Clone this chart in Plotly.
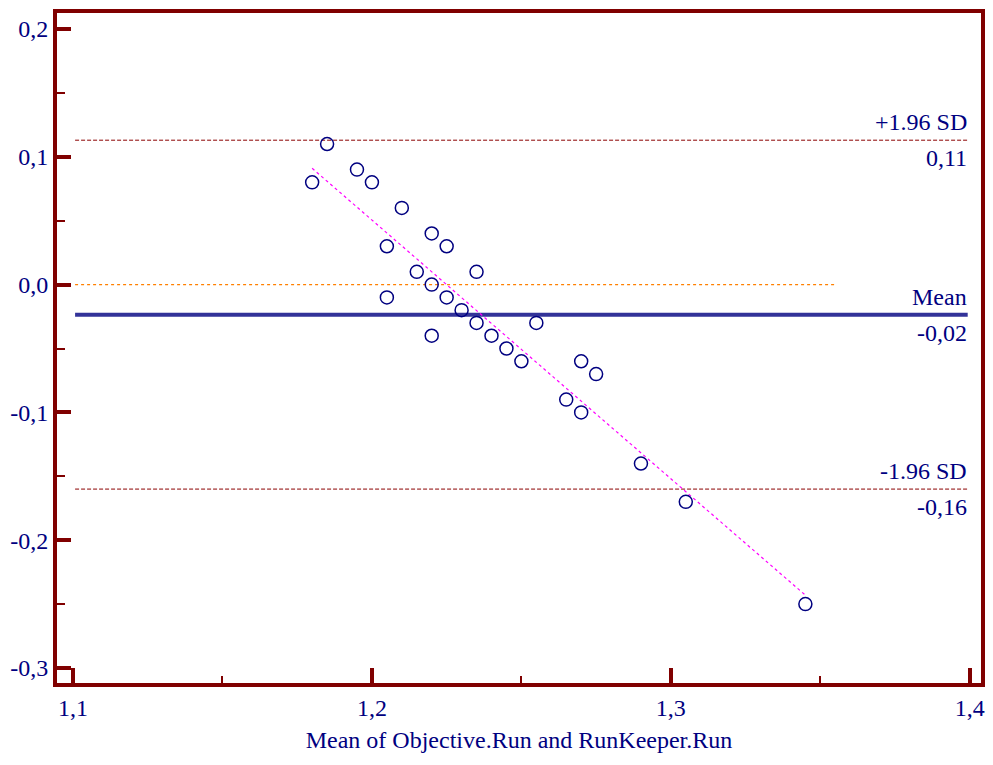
import plotly.graph_objects as go

# Data: mean of the two methods (x) and difference (y)
mean_vals = [1.180, 1.185, 1.195, 1.200, 1.210, 1.205, 1.220, 1.225, 1.235, 1.215,
             1.220, 1.205, 1.225, 1.230, 1.235, 1.255, 1.220, 1.240, 1.245, 1.250,
             1.270, 1.275, 1.265, 1.270, 1.290, 1.305, 1.345]
diff_vals = [0.08, 0.11, 0.09, 0.08, 0.06, 0.03, 0.04, 0.03, 0.01, 0.01,
             0.00, -0.01, -0.01, -0.02, -0.03, -0.03, -0.04, -0.04, -0.05, -0.06,
             -0.06, -0.07, -0.09, -0.10, -0.14, -0.17, -0.25]

mean_diff = -0.0235
upper_loa = 0.113
lower_loa = -0.160
line_x = [1.1007, 1.3993]
zero_x = [1.1007, 1.355]
reg_x = [1.180, 1.345]
reg_y = [0.091, -0.243]

x_ticks = [1.1, 1.2, 1.3, 1.4]
x_ticklabels = ["1,1", "1,2", "1,3", "1,4"]
y_ticks = [-0.3, -0.2, -0.1, 0.0, 0.1, 0.2]
y_ticklabels = ["-0,3", "-0,2", "-0,1", "0,0", "0,1", "0,2"]

NAVY = "#000080"
MAROON = "#800000"
FONT = "Liberation Serif"
FS = 24

fig = go.Figure()

# zero line
fig.add_trace(go.Scatter(x=zero_x, y=[0, 0], mode="lines",
                         line=dict(color="#ff8000", width=1.2, dash="dot"),
                         hoverinfo="skip", showlegend=False))
# limits of agreement
for v in (upper_loa, lower_loa):
    fig.add_trace(go.Scatter(x=line_x, y=[v, v], mode="lines",
                             line=dict(color="#8b0000", width=1, dash="4px,2px"),
                             hoverinfo="skip", showlegend=False))
# mean line
fig.add_trace(go.Scatter(x=line_x, y=[mean_diff, mean_diff], mode="lines",
                         line=dict(color="#333399", width=4),
                         hoverinfo="skip", showlegend=False))
# regression line
fig.add_trace(go.Scatter(x=reg_x, y=reg_y, mode="lines",
                         line=dict(color="#ff00ff", width=1.2, dash="dot"),
                         hoverinfo="skip", showlegend=False))
# points
fig.add_trace(go.Scatter(x=mean_vals, y=diff_vals, mode="markers",
                         marker=dict(symbol="circle-open", size=13,
                                     color=NAVY, line=dict(width=1.5, color=NAVY)),
                         showlegend=False))

labels = [(upper_loa, "+1.96 SD", "0,11"), (mean_diff, "Mean", "-0,02"),
          (lower_loa, "-1.96 SD", "-0,16")]
for v, top, bottom in labels:
    fig.add_annotation(x=1.3997, y=v, text=top, showarrow=False,
                       xanchor="right", yanchor="bottom", yshift=3,
                       font=dict(family=FONT, size=FS, color=NAVY))
    fig.add_annotation(x=1.3997, y=v, text=bottom, showarrow=False,
                       xanchor="right", yanchor="top", yshift=-3,
                       font=dict(family=FONT, size=FS, color=NAVY))

fig.update_layout(
    width=993, height=765,
    margin=dict(l=57, r=8, t=13, b=82),
    paper_bgcolor="white", plot_bgcolor="white",
    font=dict(family=FONT, size=FS, color=NAVY),
    showlegend=False,
)
fig.update_xaxes(
    range=[1.09465, 1.40375], showgrid=False, zeroline=False,
    showline=True, linecolor=MAROON, linewidth=4, mirror=True,
    ticks="inside", ticklen=15, tickwidth=4, tickcolor=MAROON,
    tickvals=x_ticks, ticktext=x_ticklabels,
    tickfont=dict(family=FONT, size=FS, color=NAVY),
    minor=dict(ticks="inside", ticklen=7, tickwidth=2, tickcolor=MAROON,
               tickvals=[1.15, 1.25, 1.35], showgrid=False),
    title=dict(text="Mean of Objective.Run and RunKeeper.Run",
               font=dict(family=FONT, size=FS, color=NAVY), standoff=12),
)
fig.update_yaxes(
    range=[-0.31174, 0.21252], showgrid=False, zeroline=False,
    showline=True, linecolor=MAROON, linewidth=4, mirror=True,
    ticks="inside", ticklen=14, tickwidth=4, tickcolor=MAROON,
    tickvals=y_ticks, ticktext=y_ticklabels,
    tickfont=dict(family=FONT, size=FS, color=NAVY),
    minor=dict(ticks="inside", ticklen=8, tickwidth=2, tickcolor=MAROON,
               tickvals=[-0.25, -0.15, -0.05, 0.05, 0.15], showgrid=False),
)

fig.write_html("out.html")
